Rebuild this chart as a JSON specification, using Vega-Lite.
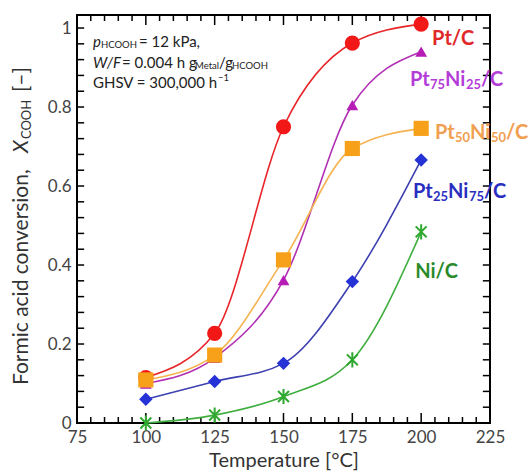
{
  "$schema": "https://vega.github.io/schema/vega-lite/v6.json",
  "width": 413,
  "height": 408,
  "autosize": {"type": "none"},
  "padding": {"left": 77, "top": 15, "right": 42, "bottom": 49},
  "background": "white",
  "config": {"view": {"stroke": "black", "strokeWidth": 2}, "font": "Lato", "axis": {"grid": false, "labelFlush": false, "labelOverlap": false}},
  "datasets": {
    "pts": [
      {"series": "Pt/C", "T": 100, "X": 0.115},
      {"series": "Pt/C", "T": 125, "X": 0.227},
      {"series": "Pt/C", "T": 150, "X": 0.75},
      {"series": "Pt/C", "T": 175, "X": 0.962},
      {"series": "Pt/C", "T": 200, "X": 1.01},
      {"series": "Pt75Ni25/C", "T": 100, "X": 0.1},
      {"series": "Pt75Ni25/C", "T": 125, "X": 0.165},
      {"series": "Pt75Ni25/C", "T": 150, "X": 0.362},
      {"series": "Pt75Ni25/C", "T": 175, "X": 0.805},
      {"series": "Pt75Ni25/C", "T": 200, "X": 0.94},
      {"series": "Pt50Ni50/C", "T": 100, "X": 0.109},
      {"series": "Pt50Ni50/C", "T": 125, "X": 0.172},
      {"series": "Pt50Ni50/C", "T": 150, "X": 0.413},
      {"series": "Pt50Ni50/C", "T": 175, "X": 0.695},
      {"series": "Pt50Ni50/C", "T": 200, "X": 0.746},
      {"series": "Pt25Ni75/C", "T": 100, "X": 0.06},
      {"series": "Pt25Ni75/C", "T": 125, "X": 0.105},
      {"series": "Pt25Ni75/C", "T": 150, "X": 0.151},
      {"series": "Pt25Ni75/C", "T": 175, "X": 0.358},
      {"series": "Pt25Ni75/C", "T": 200, "X": 0.666},
      {"series": "Ni/C", "T": 100, "X": 0.0},
      {"series": "Ni/C", "T": 125, "X": 0.02},
      {"series": "Ni/C", "T": 150, "X": 0.067},
      {"series": "Ni/C", "T": 175, "X": 0.16},
      {"series": "Ni/C", "T": 200, "X": 0.484}
    ],
    "xmajor": [{"T": 100}, {"T": 125}, {"T": 150}, {"T": 175}, {"T": 200}],
    "xminor": [{"T": 80}, {"T": 85}, {"T": 90}, {"T": 95}, {"T": 105}, {"T": 110}, {"T": 115}, {"T": 120}, {"T": 130}, {"T": 135}, {"T": 140}, {"T": 145}, {"T": 155}, {"T": 160}, {"T": 165}, {"T": 170}, {"T": 180}, {"T": 185}, {"T": 190}, {"T": 195}, {"T": 205}, {"T": 210}, {"T": 215}, {"T": 220}],
    "yticks": [{"X": 0.04}, {"X": 0.08}, {"X": 0.12}, {"X": 0.16}, {"X": 0.2}, {"X": 0.24}, {"X": 0.28}, {"X": 0.32}, {"X": 0.36}, {"X": 0.4}, {"X": 0.44}, {"X": 0.48}, {"X": 0.52}, {"X": 0.56}, {"X": 0.6}, {"X": 0.64}, {"X": 0.68}, {"X": 0.72}, {"X": 0.76}, {"X": 0.8}, {"X": 0.84}, {"X": 0.88}, {"X": 0.92}, {"X": 0.96}, {"X": 1.0}]
  },
  "data": {"name": "pts"},
  "layer": [
    {
      "data": {"name": "xmajor"},
      "mark": {"type": "rule", "color": "black", "strokeWidth": 1.5},
      "encoding": {"x": {"field": "T", "type": "quantitative"}, "y": {"datum": 0, "type": "quantitative"}, "y2": {"datum": 0.0253}}
    },
    {
      "data": {"name": "xminor"},
      "mark": {"type": "rule", "color": "black", "strokeWidth": 1.5},
      "encoding": {"x": {"field": "T", "type": "quantitative"}, "y": {"datum": 0, "type": "quantitative"}, "y2": {"datum": 0.0152}}
    },
    {
      "data": {"name": "xmajor"},
      "mark": {"type": "rule", "color": "black", "strokeWidth": 1.5},
      "encoding": {"x": {"field": "T", "type": "quantitative"}, "y": {"datum": 1.033, "type": "quantitative"}, "y2": {"datum": 1.0077}}
    },
    {
      "data": {"name": "xminor"},
      "mark": {"type": "rule", "color": "black", "strokeWidth": 1.5},
      "encoding": {"x": {"field": "T", "type": "quantitative"}, "y": {"datum": 1.033, "type": "quantitative"}, "y2": {"datum": 1.0178}}
    },
    {
      "data": {"name": "yticks"},
      "mark": {"type": "rule", "color": "black", "strokeWidth": 1.5},
      "encoding": {"y": {"field": "X", "type": "quantitative"}, "x": {"datum": 75, "type": "quantitative"}, "x2": {"datum": 77.6}}
    },
    {
      "data": {"name": "yticks"},
      "mark": {"type": "rule", "color": "black", "strokeWidth": 1.5},
      "encoding": {"y": {"field": "X", "type": "quantitative"}, "x": {"datum": 225, "type": "quantitative"}, "x2": {"datum": 222.4}}
    },
    {
      "mark": {"type": "line", "interpolate": "monotone", "strokeWidth": 1.6},
      "encoding": {
        "x": {"field": "T", "type": "quantitative", "scale": {"domain": [75, 225], "nice": false, "zero": false},
          "axis": {"orient": "bottom", "values": [75, 100, 125, 150, 175, 200, 225], "ticks": false, "domain": false, "labelFont": "Lato", "labelFontSize": 17, "labelColor": "#444", "labelPadding": 6, "title": "Temperature [°C]", "titleFont": "Lato", "titleFontSize": 20, "titleFontWeight": "normal", "titleColor": "#333", "titlePadding": 5}},
        "y": {"field": "X", "type": "quantitative", "scale": {"domain": [0, 1.033], "nice": false, "zero": true},
          "axis": {"orient": "left", "values": [0, 0.2, 0.4, 0.6, 0.8, 1.0], "format": "~g", "ticks": false, "domain": false, "labelFont": "Lato", "labelFontSize": 17, "labelColor": "#444", "labelPadding": 6, "title": null}},
        "color": {"field": "series", "type": "nominal", "scale": {"domain": ["Pt/C", "Pt75Ni25/C", "Pt50Ni50/C", "Pt25Ni75/C", "Ni/C"], "range": ["#e8262a", "#b02fb3", "#f4b350", "#3d40b0", "#3fae3f"]}, "legend": null}
      }
    },
    {
      "transform": [{"filter": "datum.series === 'Pt/C'"}],
      "mark": {"type": "point", "shape": "circle", "filled": true, "opacity": 1, "color": "#f21818", "size": 230},
      "encoding": {"x": {"field": "T", "type": "quantitative"}, "y": {"field": "X", "type": "quantitative"}}
    },
    {
      "transform": [{"filter": "datum.series === 'Pt75Ni25/C'"}],
      "mark": {"type": "point", "shape": "triangle-up", "filled": true, "opacity": 1, "color": "#b61cb6", "size": 140},
      "encoding": {"x": {"field": "T", "type": "quantitative"}, "y": {"field": "X", "type": "quantitative"}}
    },
    {
      "transform": [{"filter": "datum.series === 'Pt25Ni75/C'"}],
      "mark": {"type": "point", "shape": "diamond", "filled": true, "opacity": 1, "color": "#2432d6", "size": 180},
      "encoding": {"x": {"field": "T", "type": "quantitative"}, "y": {"field": "X", "type": "quantitative"}}
    },
    {
      "transform": [{"filter": "datum.series === 'Ni/C'"}],
      "mark": {"type": "point", "shape": "M0,-1L0,1M-0.72,-0.72L0.72,0.72M-0.72,0.72L0.72,-0.72", "filled": false, "opacity": 1, "color": "#2fa82f", "strokeWidth": 2, "size": 230},
      "encoding": {"x": {"field": "T", "type": "quantitative"}, "y": {"field": "X", "type": "quantitative"}}
    },
    {
      "transform": [{"filter": "datum.series === 'Pt50Ni50/C'"}],
      "mark": {"type": "point", "shape": "square", "filled": true, "opacity": 1, "color": "#f7a11a", "size": 230},
      "encoding": {"x": {"field": "T", "type": "quantitative"}, "y": {"field": "X", "type": "quantitative"}}
    },
    {
      "data": {"values": [{}]},
      "mark": {"type": "text", "text": "Pt/C", "font": "Lato", "fontSize": 20, "fontWeight": "bold", "color": "#e02828", "align": "center", "baseline": "middle"},
      "encoding": {"x": {"datum": 211.6, "type": "quantitative"}, "y": {"datum": 0.972, "type": "quantitative"}}
    },
    {"data": {"values": [{}]}, "mark": {"type": "text", "text": "Pt", "font": "Lato", "fontSize": 20, "fontWeight": "bold", "color": "#b43cd8", "align": "left", "baseline": "middle"}, "encoding": {"x": {"datum": 195.9, "type": "quantitative"}, "y": {"datum": 0.868, "type": "quantitative"}}},
    {"data": {"values": [{}]}, "mark": {"type": "text", "text": "75", "font": "Lato", "fontSize": 13, "fontWeight": "bold", "color": "#b43cd8", "align": "left", "baseline": "middle", "dx": 20, "dy": 5}, "encoding": {"x": {"datum": 195.9, "type": "quantitative"}, "y": {"datum": 0.868, "type": "quantitative"}}},
    {"data": {"values": [{}]}, "mark": {"type": "text", "text": "Ni", "font": "Lato", "fontSize": 20, "fontWeight": "bold", "color": "#b43cd8", "align": "left", "baseline": "middle", "dx": 35}, "encoding": {"x": {"datum": 195.9, "type": "quantitative"}, "y": {"datum": 0.868, "type": "quantitative"}}},
    {"data": {"values": [{}]}, "mark": {"type": "text", "text": "25", "font": "Lato", "fontSize": 13, "fontWeight": "bold", "color": "#b43cd8", "align": "left", "baseline": "middle", "dx": 56, "dy": 5}, "encoding": {"x": {"datum": 195.9, "type": "quantitative"}, "y": {"datum": 0.868, "type": "quantitative"}}},
    {"data": {"values": [{}]}, "mark": {"type": "text", "text": "/C", "font": "Lato", "fontSize": 20, "fontWeight": "bold", "color": "#b43cd8", "align": "left", "baseline": "middle", "dx": 71}, "encoding": {"x": {"datum": 195.9, "type": "quantitative"}, "y": {"datum": 0.868, "type": "quantitative"}}},
    {"data": {"values": [{}]}, "mark": {"type": "text", "text": "Pt", "font": "Lato", "fontSize": 20, "fontWeight": "bold", "color": "#f0a050", "align": "left", "baseline": "middle"}, "encoding": {"x": {"datum": 205.0, "type": "quantitative"}, "y": {"datum": 0.734, "type": "quantitative"}}},
    {"data": {"values": [{}]}, "mark": {"type": "text", "text": "50", "font": "Lato", "fontSize": 13, "fontWeight": "bold", "color": "#f0a050", "align": "left", "baseline": "middle", "dx": 20, "dy": 5}, "encoding": {"x": {"datum": 205.0, "type": "quantitative"}, "y": {"datum": 0.734, "type": "quantitative"}}},
    {"data": {"values": [{}]}, "mark": {"type": "text", "text": "Ni", "font": "Lato", "fontSize": 20, "fontWeight": "bold", "color": "#f0a050", "align": "left", "baseline": "middle", "dx": 35}, "encoding": {"x": {"datum": 205.0, "type": "quantitative"}, "y": {"datum": 0.734, "type": "quantitative"}}},
    {"data": {"values": [{}]}, "mark": {"type": "text", "text": "50", "font": "Lato", "fontSize": 13, "fontWeight": "bold", "color": "#f0a050", "align": "left", "baseline": "middle", "dx": 56, "dy": 5}, "encoding": {"x": {"datum": 205.0, "type": "quantitative"}, "y": {"datum": 0.734, "type": "quantitative"}}},
    {"data": {"values": [{}]}, "mark": {"type": "text", "text": "/C", "font": "Lato", "fontSize": 20, "fontWeight": "bold", "color": "#f0a050", "align": "left", "baseline": "middle", "dx": 71}, "encoding": {"x": {"datum": 205.0, "type": "quantitative"}, "y": {"datum": 0.734, "type": "quantitative"}}},
    {"data": {"values": [{}]}, "mark": {"type": "text", "text": "Pt", "font": "Lato", "fontSize": 20, "fontWeight": "bold", "color": "#2a2ec0", "align": "left", "baseline": "middle"}, "encoding": {"x": {"datum": 197.0, "type": "quantitative"}, "y": {"datum": 0.586, "type": "quantitative"}}},
    {"data": {"values": [{}]}, "mark": {"type": "text", "text": "25", "font": "Lato", "fontSize": 13, "fontWeight": "bold", "color": "#2a2ec0", "align": "left", "baseline": "middle", "dx": 20, "dy": 5}, "encoding": {"x": {"datum": 197.0, "type": "quantitative"}, "y": {"datum": 0.586, "type": "quantitative"}}},
    {"data": {"values": [{}]}, "mark": {"type": "text", "text": "Ni", "font": "Lato", "fontSize": 20, "fontWeight": "bold", "color": "#2a2ec0", "align": "left", "baseline": "middle", "dx": 35}, "encoding": {"x": {"datum": 197.0, "type": "quantitative"}, "y": {"datum": 0.586, "type": "quantitative"}}},
    {"data": {"values": [{}]}, "mark": {"type": "text", "text": "75", "font": "Lato", "fontSize": 13, "fontWeight": "bold", "color": "#2a2ec0", "align": "left", "baseline": "middle", "dx": 56, "dy": 5}, "encoding": {"x": {"datum": 197.0, "type": "quantitative"}, "y": {"datum": 0.586, "type": "quantitative"}}},
    {"data": {"values": [{}]}, "mark": {"type": "text", "text": "/C", "font": "Lato", "fontSize": 20, "fontWeight": "bold", "color": "#2a2ec0", "align": "left", "baseline": "middle", "dx": 71}, "encoding": {"x": {"datum": 197.0, "type": "quantitative"}, "y": {"datum": 0.586, "type": "quantitative"}}},
    {
      "data": {"values": [{}]},
      "mark": {"type": "text", "text": "Ni/C", "font": "Lato", "fontSize": 20, "fontWeight": "bold", "color": "#2a8a2a", "align": "center", "baseline": "middle"},
      "encoding": {"x": {"datum": 205.6, "type": "quantitative"}, "y": {"datum": 0.383, "type": "quantitative"}}
    },
    {"data": {"values": [{}]}, "mark": {"type": "text", "text": "p", "font": "Lato", "fontSize": 15, "fontStyle": "italic", "color": "#222", "align": "left", "baseline": "middle"}, "encoding": {"x": {"datum": 80.81, "type": "quantitative"}, "y": {"datum": 0.965, "type": "quantitative"}}},
    {"data": {"values": [{}]}, "mark": {"type": "text", "text": "HCOOH", "font": "Lato", "fontSize": 9.5, "color": "#222", "align": "left", "baseline": "middle", "dx": 8, "dy": 3}, "encoding": {"x": {"datum": 80.81, "type": "quantitative"}, "y": {"datum": 0.965, "type": "quantitative"}}},
    {"data": {"values": [{}]}, "mark": {"type": "text", "text": "= 12 kPa,", "font": "Lato", "fontSize": 15, "color": "#222", "align": "left", "baseline": "middle", "dx": 46}, "encoding": {"x": {"datum": 80.81, "type": "quantitative"}, "y": {"datum": 0.965, "type": "quantitative"}}},
    {"data": {"values": [{}]}, "mark": {"type": "text", "text": "W/F", "font": "Lato", "fontSize": 15, "fontStyle": "italic", "color": "#222", "align": "left", "baseline": "middle"}, "encoding": {"x": {"datum": 80.81, "type": "quantitative"}, "y": {"datum": 0.911, "type": "quantitative"}}},
    {"data": {"values": [{}]}, "mark": {"type": "text", "text": "= 0.004 h g", "font": "Lato", "fontSize": 15, "color": "#222", "align": "left", "baseline": "middle", "dx": 29}, "encoding": {"x": {"datum": 80.81, "type": "quantitative"}, "y": {"datum": 0.911, "type": "quantitative"}}},
    {"data": {"values": [{}]}, "mark": {"type": "text", "text": "Metal", "font": "Lato", "fontSize": 9.5, "color": "#222", "align": "left", "baseline": "middle", "dx": 102, "dy": 3}, "encoding": {"x": {"datum": 80.81, "type": "quantitative"}, "y": {"datum": 0.911, "type": "quantitative"}}},
    {"data": {"values": [{}]}, "mark": {"type": "text", "text": "/g", "font": "Lato", "fontSize": 15, "color": "#222", "align": "left", "baseline": "middle", "dx": 126}, "encoding": {"x": {"datum": 80.81, "type": "quantitative"}, "y": {"datum": 0.911, "type": "quantitative"}}},
    {"data": {"values": [{}]}, "mark": {"type": "text", "text": "HCOOH", "font": "Lato", "fontSize": 9.5, "color": "#222", "align": "left", "baseline": "middle", "dx": 139, "dy": 3}, "encoding": {"x": {"datum": 80.81, "type": "quantitative"}, "y": {"datum": 0.911, "type": "quantitative"}}},
    {"data": {"values": [{}]}, "mark": {"type": "text", "text": "GHSV = 300,000 h", "font": "Lato", "fontSize": 15, "color": "#222", "align": "left", "baseline": "middle"}, "encoding": {"x": {"datum": 80.81, "type": "quantitative"}, "y": {"datum": 0.861, "type": "quantitative"}}},
    {"data": {"values": [{}]}, "mark": {"type": "text", "text": "−1", "font": "Lato", "fontSize": 9.5, "color": "#222", "align": "left", "baseline": "middle", "dx": 125, "dy": -5}, "encoding": {"x": {"datum": 80.81, "type": "quantitative"}, "y": {"datum": 0.861, "type": "quantitative"}}},
    {"data": {"values": [{}]}, "mark": {"type": "text", "text": "Formic acid conversion,", "font": "Lato", "fontSize": 21, "color": "#333", "align": "left", "baseline": "middle", "angle": 270}, "encoding": {"x": {"datum": 55.0, "type": "quantitative"}, "y": {"datum": 0.096, "type": "quantitative"}}},
    {"data": {"values": [{}]}, "mark": {"type": "text", "text": "X", "font": "Lato", "fontSize": 21, "fontStyle": "italic", "color": "#333", "align": "left", "baseline": "middle", "angle": 270, "dx": 232}, "encoding": {"x": {"datum": 55.0, "type": "quantitative"}, "y": {"datum": 0.096, "type": "quantitative"}}},
    {"data": {"values": [{}]}, "mark": {"type": "text", "text": "COOH", "font": "Lato", "fontSize": 13, "color": "#333", "align": "left", "baseline": "middle", "angle": 270, "dx": 246, "dy": 5}, "encoding": {"x": {"datum": 55.0, "type": "quantitative"}, "y": {"datum": 0.096, "type": "quantitative"}}},
    {"data": {"values": [{}]}, "mark": {"type": "text", "text": "[–]", "font": "Lato", "fontSize": 21, "color": "#333", "align": "left", "baseline": "middle", "angle": 270, "dx": 293}, "encoding": {"x": {"datum": 55.0, "type": "quantitative"}, "y": {"datum": 0.096, "type": "quantitative"}}}
  ]
}
